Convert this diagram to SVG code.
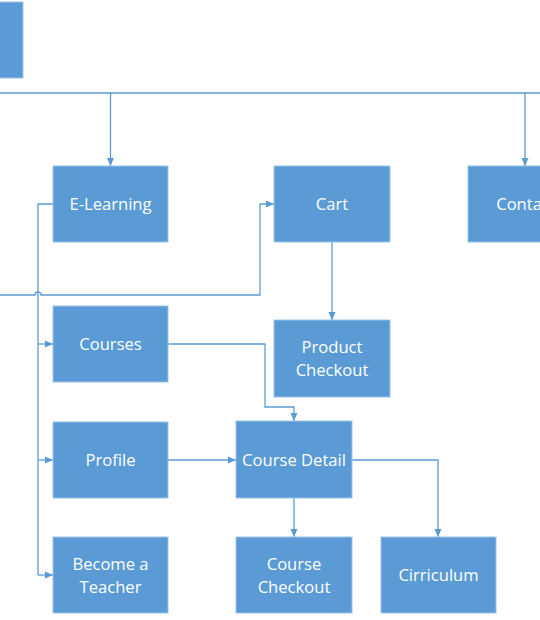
<svg xmlns="http://www.w3.org/2000/svg" width="540" height="620" viewBox="0 0 540 620">
<defs>
<marker id="arr" markerUnits="userSpaceOnUse" markerWidth="9" markerHeight="9" refX="8" refY="4.5" orient="auto">
<path d="M0,1 L8,4.5 L0,8 z" fill="#5B9BD5"/>
</marker>
<style>
.box{fill:#5B9BD5;stroke:#9DC3E6;stroke-width:1}
.lbl{fill:#fff;font-family:"Open Sans","Liberation Sans",sans-serif;font-size:16.6px;text-anchor:middle}
.ln{fill:none;stroke:#5B9BD5;stroke-width:1.3}
.ar{marker-end:url(#arr)}
</style>
</defs>
<rect width="540" height="620" fill="#fff"/>
<g id="connectors">
<path class="ln" d="M0,93 H540"/>
<path class="ln ar" d="M110.5,93 V166"/>
<path class="ln ar" d="M525,93 V166"/>
<path class="ln ar" d="M0,295 H35 A3,3 0 0 1 41,295 H260 V204 H274"/>
<path class="ln ar" d="M332,242 V320"/>
<path class="ln" d="M53,204 H38 V575"/>
<path class="ln ar" d="M38,344 H53"/>
<path class="ln ar" d="M38,460 H53"/>
<path class="ln ar" d="M38,575 H53"/>
<path class="ln ar" d="M168,344 H265 V407 H294 V421"/>
<path class="ln ar" d="M168,460 H236"/>
<path class="ln ar" d="M294,498 V537"/>
<path class="ln ar" d="M352,460 H438 V537"/>
</g>
<g id="node-root"><rect class="box" x="-92" y="2" width="115" height="76"/></g>
<g id="node-elearning"><rect class="box" x="53" y="166" width="115" height="76"/><text class="lbl" x="110.5" y="210">E-Learning</text></g>
<g id="node-cart"><rect class="box" x="274" y="166" width="116" height="76"/><text class="lbl" x="332" y="210">Cart</text></g>
<g id="node-contact"><rect class="box" x="468" y="166" width="116" height="76"/><text class="lbl" x="526" y="210">Contact</text></g>
<g id="node-courses"><rect class="box" x="53" y="306" width="115" height="76"/><text class="lbl" x="110.5" y="350">Courses</text></g>
<g id="node-product-checkout"><rect class="box" x="274" y="320" width="116" height="77"/><text class="lbl" x="332" y="353">Product</text><text class="lbl" x="332" y="376">Checkout</text></g>
<g id="node-profile"><rect class="box" x="53" y="422" width="115" height="76"/><text class="lbl" x="110.5" y="466">Profile</text></g>
<g id="node-course-detail"><rect class="box" x="236" y="421" width="116" height="77"/><text class="lbl" x="294" y="466">Course Detail</text></g>
<g id="node-teacher"><rect class="box" x="53" y="537" width="115" height="76"/><text class="lbl" x="110.5" y="570">Become a</text><text class="lbl" x="110.5" y="593">Teacher</text></g>
<g id="node-course-checkout"><rect class="box" x="236" y="537" width="116" height="76"/><text class="lbl" x="294" y="570">Course</text><text class="lbl" x="294" y="593">Checkout</text></g>
<g id="node-cirriculum"><rect class="box" x="381" y="537" width="115" height="76"/><text class="lbl" x="438.5" y="581">Cirriculum</text></g>
</svg>
